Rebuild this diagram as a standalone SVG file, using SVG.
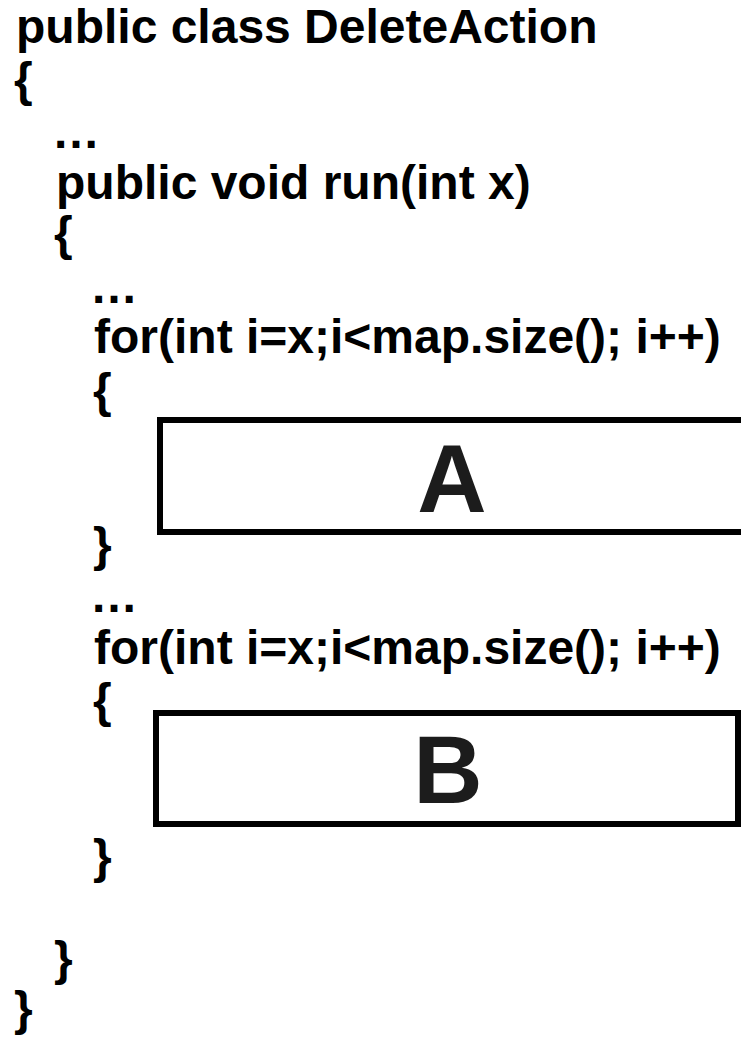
<svg xmlns="http://www.w3.org/2000/svg" width="741" height="1037" viewBox="0 0 741 1037">
  <style>
    .code { font-family: "Liberation Sans", Arial, sans-serif; font-weight: bold; font-size: 48px; fill: #000; }
    .label { font-family: "Liberation Sans", Arial, sans-serif; font-weight: bold; font-size: 96px; fill: #1c1c1c; text-anchor: middle; }
    .box { fill: #fff; stroke: #000; stroke-width: 6; }
  </style>
  <rect width="741" height="1037" fill="#fff"/>

  <!-- source listing -->
  <g id="code">
    <text class="code" x="16" y="43">public class DeleteAction</text>
    <text class="code" x="14" y="96">{</text>
    <text class="code" x="52" y="148">…</text>
    <text class="code" x="56" y="199">public void run(int x)</text>
    <text class="code" x="54" y="250">{</text>
    <text class="code" x="90" y="303">…</text>
    <text class="code" x="94" y="353">for(int i=x;i&lt;map.size(); i++)</text>
    <text class="code" x="93" y="407">{</text>
    <text class="code" x="93" y="561">}</text>
    <text class="code" x="90" y="612">…</text>
    <text class="code" x="94" y="664">for(int i=x;i&lt;map.size(); i++)</text>
    <text class="code" x="93" y="717">{</text>
    <text class="code" x="93" y="873">}</text>
    <text class="code" x="54" y="975">}</text>
    <text class="code" x="14" y="1025">}</text>
  </g>

  <!-- loop body A -->
  <g id="block-a">
    <rect class="box" x="160" y="420" width="620" height="112"/>
    <text class="label" x="452" y="512">A</text>
  </g>

  <!-- loop body B -->
  <g id="block-b">
    <rect class="box" x="156" y="713" width="582" height="111"/>
    <text class="label" x="448" y="803">B</text>
  </g>

  <g id="connectors"></g>
</svg>
